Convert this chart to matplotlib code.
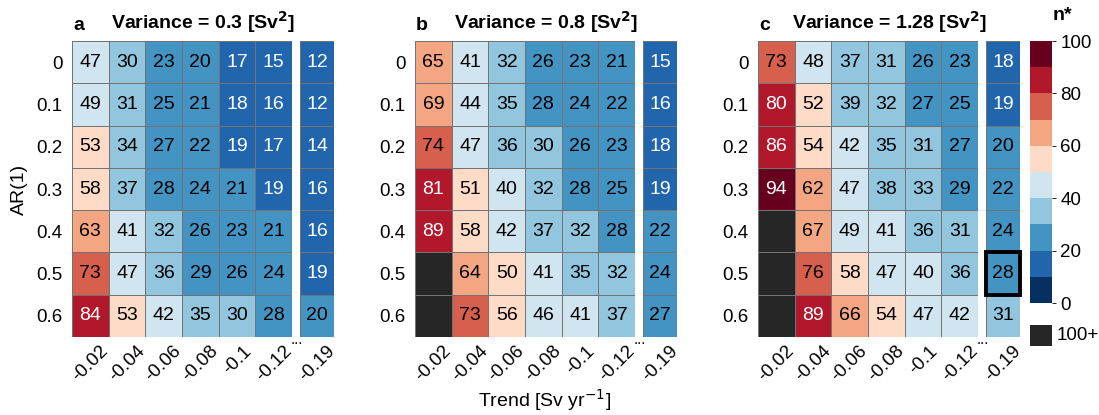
import numpy as np
import matplotlib.pyplot as plt
from matplotlib.colors import ListedColormap, BoundaryNorm
from matplotlib.patches import Rectangle

plt.rcParams["font.family"] = ["Liberation Sans", "DejaVu Sans"]

# n* for each AR(1) (rows) and trend (columns); nan means 100+
ar1 = ["0", "0.1", "0.2", "0.3", "0.4", "0.5", "0.6"]
trends = ["-0.02", "-0.04", "-0.06", "-0.08", "-0.1", "-0.12"]
trend_far = ["-0.19"]
variances = ["0.3", "0.8", "1.28"]
letters = ["a", "b", "c"]

n_a = [[47, 30, 23, 20, 17, 15],
       [49, 31, 25, 21, 18, 16],
       [53, 34, 27, 22, 19, 17],
       [58, 37, 28, 24, 21, 19],
       [63, 41, 32, 26, 23, 21],
       [73, 47, 36, 29, 26, 24],
       [84, 53, 42, 35, 30, 28]]
far_a = [12, 12, 14, 16, 16, 19, 20]

n_b = [[65, 41, 32, 26, 23, 21],
       [69, 44, 35, 28, 24, 22],
       [74, 47, 36, 30, 26, 23],
       [81, 51, 40, 32, 28, 25],
       [89, 58, 42, 37, 32, 28],
       [np.nan, 64, 50, 41, 35, 32],
       [np.nan, 73, 56, 46, 41, 37]]
far_b = [15, 16, 18, 19, 22, 24, 27]

n_c = [[73, 48, 37, 31, 26, 23],
       [80, 52, 39, 32, 27, 25],
       [86, 54, 42, 35, 31, 27],
       [94, 62, 47, 38, 33, 29],
       [np.nan, 67, 49, 41, 36, 31],
       [np.nan, 76, 58, 47, 40, 36],
       [np.nan, 89, 66, 54, 47, 42]]
far_c = [18, 19, 20, 22, 24, 28, 31]

panels = [(n_a, far_a), (n_b, far_b), (n_c, far_c)]

colors = ["#053061", "#2166ac", "#4393c3", "#92c5de", "#d1e5f0",
          "#fddbc7", "#f4a582", "#d6604d", "#b2182b", "#67001f"]
cmap = ListedColormap(colors)
cmap.set_bad("#262626")
levels = np.arange(0, 101, 10)
norm = BoundaryNorm(levels, cmap.N)

W, H = 1099, 415
fig = plt.figure(figsize=(W / 100, H / 100), dpi=100)


def box(x0, y0, x1, y1):
    return [x0 / W, 1 - y1 / H, (x1 - x0) / W, (y1 - y0) / H]


def heat(ax, data, xlabels):
    data = np.ma.masked_invalid(np.array(data, dtype=float))
    ax.set_facecolor("#262626")
    ax.pcolormesh(data, cmap=cmap, norm=norm, edgecolors="0.45", linewidth=0.7)
    ax.set_xlim(0, data.shape[1])
    ax.set_ylim(data.shape[0], 0)
    for i in range(data.shape[0]):
        for j in range(data.shape[1]):
            v = data[i, j]
            if np.ma.is_masked(v):
                continue
            tc = "white" if (v < 20 or v >= 80) else "black"
            ax.text(j + 0.5, i + 0.5, f"{int(v)}", ha="center", va="center",
                    fontsize=14, color=tc)
    for s in ax.spines.values():
        s.set_visible(False)
    ax.set_xticks(np.arange(data.shape[1]) + 0.5)
    ax.set_xticklabels(xlabels, rotation=45, ha="center", va="top",
                       fontsize=13.5)
    ax.tick_params(length=0)
    ax.tick_params(axis="x", pad=4)


lefts = [72, 415, 758]
top, bottom = 41, 337
for k, (main, far) in enumerate(panels):
    x0 = lefts[k]
    ax = fig.add_axes(box(x0, top, x0 + 220, bottom))
    heat(ax, main, trends)
    ax.set_yticks(np.arange(len(ar1)) + 0.5)
    ax.set_yticklabels(ar1, fontsize=13.5)
    ax.tick_params(axis="y", pad=7)

    ax2 = fig.add_axes(box(x0 + 228, top, x0 + 262, bottom))
    heat(ax2, [[v] for v in far], trend_far)
    ax2.set_yticks([])

    fig.text((x0 + 225) / W, 1 - 340 / H, "...", ha="center", va="center",
             fontsize=11)
    fig.text((x0 + 1) / W, 1 - 25 / H, letters[k], ha="left", va="center",
             fontsize=14, fontweight="bold")
    fig.text((x0 + 131) / W, 1 - 22 / H,
             f"Variance = {variances[k]} [Sv$^\\mathbf{{2}}$]",
             ha="center", va="center", fontsize=14, fontweight="bold")

    if k == 0:
        ax.set_ylabel("AR(1)", fontsize=14, labelpad=6)
    if k == 2:
        ax2.add_patch(Rectangle((0, 5), 1, 1, fill=False, edgecolor="black",
                                linewidth=2.8, clip_on=False, zorder=5))

fig.text(545 / W, 1 - 400 / H, "Trend [Sv yr$^{-1}$]", ha="center",
         va="center", fontsize=14)

# colorbar with a separate 100+ swatch below it
cax = fig.add_axes(box(1030, 41, 1052, 303))
sm = plt.cm.ScalarMappable(norm=norm, cmap=cmap)
cb = fig.colorbar(sm, cax=cax, ticks=[0, 20, 40, 60, 80, 100])
cb.outline.set_visible(False)
cb.minorticks_off()
cax.tick_params(labelsize=13.5, length=3, width=0.6, pad=3)
fig.text(1062 / W, 1 - 16 / H, "n*", ha="center", va="center",
         fontsize=14, fontweight="bold")

sax = fig.add_axes(box(1030, 325, 1052, 346))
sax.set_facecolor("#262626")
sax.set_xticks([])
sax.set_yticks([])
for s in sax.spines.values():
    s.set_visible(False)
fig.text(1057 / W, 1 - 335 / H, "100+", ha="left", va="center", fontsize=13.5)

fig.savefig("out.png", dpi=100)
